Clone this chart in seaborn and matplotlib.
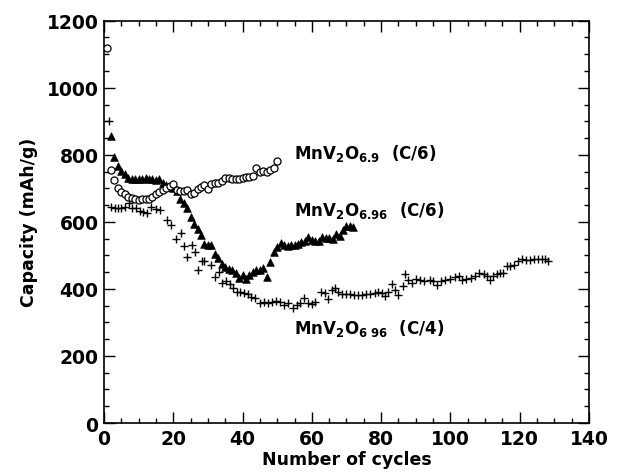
import numpy as np
import pandas as pd
import matplotlib
matplotlib.use("Agg")
import matplotlib.pyplot as plt
from matplotlib.ticker import MultipleLocator
import seaborn as sns

# ---------------- data ----------------
circ_cycle = list(range(1, 51))
circ_cap = [1120, 754, 725, 700, 690, 682, 675, 672, 668, 666,
            667, 667, 669, 675, 682, 689, 694, 702, 707, 714,
            695, 692, 692, 694, 684, 687, 697, 704, 710, 697,
            712, 715, 717, 722, 730, 730, 728, 729, 729, 732,
            733, 734, 737, 760, 750, 752, 750, 754, 762, 782]

tri_cycle = list(range(2, 73))
tri_cap = [855, 794, 767, 752, 744, 732, 728, 727, 727, 727,
           732, 728, 727, 724, 727, 717, 710, 705, 700, 692,
           667, 655, 640, 615, 595, 580, 562, 535, 532, 532,
           503, 492, 475, 465, 460, 455, 447, 434, 440, 430,
           440, 450, 455, 457, 462, 437, 480, 510, 524, 537,
           532, 527, 530, 532, 535, 540, 542, 554, 546, 542,
           544, 555, 553, 552, 550, 564, 557, 577, 587, 587, 585]

plus_cycle = [1.5, 2.0, 3.2, 4.1, 5.0, 6.0, 7.1, 8.0, 9.2, 10.4, 11.3, 12.5, 13.5, 15.0, 16.3,
              18.1, 19.3, 20.9, 22.1, 23.2, 24.1, 25.3, 26.3, 27.0, 28.4, 29.0, 30.9, 32.1, 33.1,
              34.0, 35.3, 36.3, 37.2, 38.4, 39.3, 40.3, 41.5, 42.4, 43.6, 45.0, 46.2, 47.3, 48.5,
              49.7, 50.9, 52.0, 53.2, 54.6, 55.8, 56.7, 57.7, 58.8, 60.0, 61.0, 62.5, 63.8, 64.7,
              65.9, 66.6, 67.5, 68.7, 69.9, 71.0, 72.2, 73.4, 74.6, 75.7, 76.9, 78.1, 79.2, 80.2,
              81.1, 82.1, 83.2, 83.9, 85.0, 86.3, 86.9, 87.9, 88.8, 90.0, 91.2, 92.5, 94.0, 95.1,
              96.1, 97.2, 98.4, 99.8, 101.2, 102.4, 103.4, 104.5, 105.9, 107.1, 108.2, 109.6,
              110.6, 111.5, 112.4, 113.4, 114.3, 115.2, 116.2, 117.1, 118.3, 119.4, 120.6, 121.8,
              123.0, 124.1, 125.2, 126.4, 127.4, 128.3]
plus_cap = [900, 644, 642, 640, 640, 644, 657, 642, 642, 632, 630, 627, 645, 637, 634,
            607, 590, 550, 567, 527, 494, 532, 510, 457, 484, 482, 470, 437, 450,
            417, 424, 414, 404, 390, 390, 387, 384, 377, 374, 357, 360, 357, 362,
            364, 360, 352, 357, 344, 352, 357, 374, 357, 354, 362, 390, 387, 370,
            397, 402, 390, 384, 384, 384, 382, 382, 382, 384, 384, 387, 390, 388,
            378, 390, 416, 396, 383, 410, 443, 428, 418, 430, 428, 423, 426, 423,
            413, 423, 428, 430, 436, 438, 428, 430, 433, 438, 446, 443,
            438, 428, 438, 443, 448, 448, 468, 468, 470, 483, 488, 486,
            486, 488, 490, 488, 488, 483]

labels = ["MnV$_2$O$_{6.9}$  (C/6)", "MnV$_2$O$_{6.96}$  (C/6)", "MnV$_2$O$_{6\\ 96}$  (C/4)"]
label_x = [54.8, 54.8, 54.8]
label_y = [789, 619, 268]

x_ticks = [0, 20, 40, 60, 80, 100, 120, 140]
y_ticks = [0, 200, 400, 600, 800, 1000, 1200]

# ---------------- styling ----------------
sns.set_theme(style="ticks")
plt.rcParams["font.family"] = ["DejaVu Sans"]
plt.rcParams["font.weight"] = "bold"
plt.rcParams["text.color"] = "black"
plt.rcParams["axes.labelcolor"] = "black"
plt.rcParams["xtick.color"] = "black"
plt.rcParams["ytick.color"] = "black"
plt.rcParams["xtick.labelcolor"] = "black"
plt.rcParams["ytick.labelcolor"] = "black"
plt.rcParams["axes.edgecolor"] = "black"
plt.rcParams["mathtext.fontset"] = "custom"
plt.rcParams["mathtext.rm"] = "DejaVu Sans:bold"
plt.rcParams["mathtext.it"] = "DejaVu Sans:bold"
plt.rcParams["mathtext.bf"] = "DejaVu Sans:bold"
plt.rcParams["mathtext.default"] = "rm"

fig = plt.figure(figsize=(6.29, 4.77), dpi=100)
ax = fig.add_axes([0.1653, 0.1111, 0.7711, 0.8434])

df_c = pd.DataFrame({"cycle": circ_cycle, "cap": circ_cap})
df_t = pd.DataFrame({"cycle": tri_cycle, "cap": tri_cap})
df_p = pd.DataFrame({"cycle": plus_cycle, "cap": plus_cap})

sns.scatterplot(data=df_p, x="cycle", y="cap", marker="+", s=34, color="black",
                linewidth=1.0, ax=ax, zorder=3)
sns.scatterplot(data=df_t, x="cycle", y="cap", marker="^", s=30, color="black",
                edgecolor="black", linewidth=0.5, ax=ax, zorder=4)
sns.scatterplot(data=df_c, x="cycle", y="cap", marker="o", s=26, facecolor="white",
                edgecolor="black", linewidth=0.9, ax=ax, zorder=5)

for t, xx, yy in zip(labels, label_x, label_y):
    ax.text(xx, yy, t, fontsize=12, fontweight="bold", ha="left", va="baseline",
            color="black")

ax.set_xlim(0, 140)
ax.set_ylim(0, 1200)
ax.set_xticks(x_ticks)
ax.set_yticks(y_ticks)
ax.xaxis.set_minor_locator(MultipleLocator(5))
ax.yaxis.set_minor_locator(MultipleLocator(50))
ax.tick_params(which="both", direction="in", top=True, right=True, color="black", width=1.0)
ax.tick_params(which="major", length=8, labelsize=13.5, pad=4, labelcolor="black")
ax.tick_params(which="minor", length=3.5)
for lab in ax.get_xticklabels() + ax.get_yticklabels():
    lab.set_fontweight("bold")
for sp in ax.spines.values():
    sp.set_linewidth(1.2)
    sp.set_color("black")

ax.set_xlabel("Number of cycles", fontsize=12.5, fontweight="bold", labelpad=2, color="black")
ax.set_ylabel("Capacity (mAh/g)", fontsize=12.5, fontweight="bold", labelpad=6, color="black")

fig.savefig("out.png", dpi=100)
